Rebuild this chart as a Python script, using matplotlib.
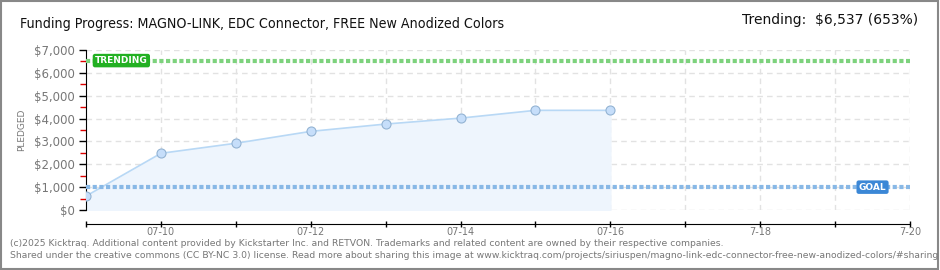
import matplotlib.pyplot as plt
from matplotlib.patches import Rectangle
from matplotlib.ticker import MultipleLocator, FuncFormatter

# daily pledged totals (July)
days = [9, 10, 11, 12, 13, 14, 15, 16]
pledged = [610, 2480, 2920, 3440, 3760, 4020, 4360, 4360]
goal = 1000
trending = 6537
tick_days = [10, 12, 14, 16, 18, 20]
tick_labels = ['07-10', '07-12', '07-14', '07-16', '7-18', '7-20']

title = 'Funding Progress: MAGNO-LINK, EDC Connector, FREE New Anodized Colors'
trend_text = 'Trending:  $6,537 (653%)'
footer1 = ('(c)2025 Kicktraq. Additional content provided by Kickstarter Inc. and RETVON. '
           'Trademarks and related content are owned by their respective companies.')
footer2 = ('Shared under the creative commons (CC BY-NC 3.0) license. Read more about sharing this '
           'image at www.kicktraq.com/projects/siriuspen/magno-link-edc-connector-free-new-anodized-colors/#sharing')

gray = '#777777'

fig = plt.figure(figsize=(9.4, 2.7), dpi=100)
fig.patch.set_facecolor('white')
fig.add_artist(Rectangle((0.001, 0.002), 0.997, 0.995, transform=fig.transFigure,
                         fill=False, edgecolor='#888888', linewidth=1.5))

ax = fig.add_axes([86 / 940, 1 - 210 / 270, 824 / 940, 160 / 270])
ax.set_xlim(9, 20)
ax.set_ylim(0, 7000)

# grid
for d in range(10, 21):
    ax.axvline(d, color='#e2e2e2', lw=1, ls=(0, (4, 3)), zorder=0)
for v in range(0, 8000, 1000):
    ax.axhline(v, color='#e2e2e2', lw=1, ls=(0, (4, 3)), zorder=0)

ax.fill_between(days, pledged, 0, color='#eef5fd', zorder=1)
ax.plot(days, pledged, color='#b8d8f5', lw=1.2, zorder=2)
ax.plot(days, pledged, 'o', ms=6.5, mfc='#c6defa', mec='#93b3d3', mew=0.8, zorder=4)

ax.axhline(trending, color='#7dd27d', lw=3, ls=(0, (1, 0.6)), zorder=3)
ax.axhline(goal, color='#88b8e6', lw=3, ls=(0, (1, 0.6)), zorder=3)

ax.text(9.12, trending, 'TRENDING', color='white', fontsize=6.5, va='center', ha='left',
        fontweight='bold', zorder=5,
        bbox=dict(boxstyle='round,pad=0.25', fc='#22b022', ec='none'))
ax.text(19.5, goal, 'GOAL', color='white', fontsize=6.5, va='center', ha='center',
        fontweight='bold', zorder=5,
        bbox=dict(boxstyle='round,pad=0.25', fc='#3b87d6', ec='none'))

# axes styling
for s in ['top', 'right']:
    ax.spines[s].set_visible(False)
ax.spines['left'].set_color('black')
ax.spines['bottom'].set_position(('outward', 10))
ax.spines['bottom'].set_color('black')

ax.yaxis.set_major_locator(MultipleLocator(1000))
ax.yaxis.set_minor_locator(MultipleLocator(500))
ax.yaxis.set_major_formatter(FuncFormatter(lambda v, p: '${:,.0f}'.format(v)))
ax.tick_params(axis='y', which='major', length=5, width=1, color='black',
               labelsize=8.5, labelcolor=gray, pad=3)
ax.tick_params(axis='y', which='minor', length=4, width=1, color='#dd0000')

ax.set_xticks(range(9, 21))
ax.set_xticklabels(['' if d not in tick_days else tick_labels[tick_days.index(d)]
                    for d in range(9, 21)])
ax.tick_params(axis='x', direction='inout', length=5, width=1, color='black',
               labelsize=7, labelcolor=gray, pad=0)

ax.set_ylabel('PLEDGED', fontsize=6.5, color=gray, labelpad=6)

fig.text(20 / 940, 1 - 24 / 270, title, fontsize=10.2, color='#111111', va='center', ha='left',
         stretch='condensed')
fig.text(918 / 940, 1 - 20 / 270, trend_text, fontsize=10, color='#111111', va='center', ha='right')
fig.text(10 / 940, 1 - 243 / 270, footer1, fontsize=6.7, color=gray, va='center', ha='left')
fig.text(10 / 940, 1 - 255 / 270, footer2, fontsize=6.7, color=gray, va='center', ha='left')

fig.savefig('out.png', dpi=100)
